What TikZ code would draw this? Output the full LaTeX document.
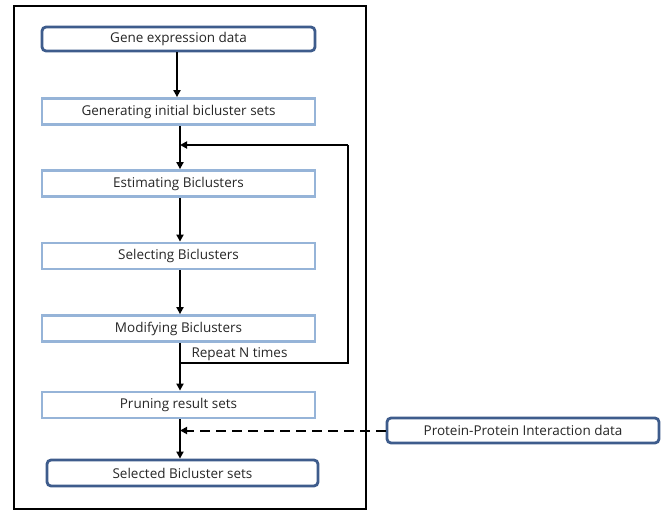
\documentclass[tikz,border=0pt]{standalone}
\usepackage{fontspec}
\setmainfont{Open Sans}
\usetikzlibrary{arrows.meta}
\definecolor{darkblue}{HTML}{3E5C8C}
\definecolor{lightblue}{HTML}{96B4D8}
\definecolor{txt}{HTML}{262626}
\tikzset{
  base/.style={rectangle, minimum width=273pt, minimum height=26pt, inner sep=0pt,
    font=\fontsize{13.5pt}{15pt}\selectfont, text=txt, fill=white},
  darkbox/.style={base, draw=darkblue, line width=2.8pt, rounded corners=4pt},
  lightbox/.style={base, draw=lightblue, line width=2.8pt},
  arr/.style={line width=2pt, -{Triangle[length=7pt,width=7pt]}},
  ln/.style={line width=2pt},
}
\begin{document}
\begin{tikzpicture}[x=1pt,y=-1pt]
\useasboundingbox (0,0) rectangle (667,511);
\draw[line width=1.8pt] (14,6) rectangle (366,509);
\node[darkbox, minimum height=24pt] (gene) at (178.5,39) {Gene expression data};
\node[lightbox] (gen) at (178.5,111.5) {Generating initial bicluster sets};
\node[lightbox] (est) at (178.5,183.5) {Estimating Biclusters};
\node[lightbox] (sel) at (178.5,256) {Selecting Biclusters};
\node[lightbox] (mod) at (178.5,328.5) {Modifying Biclusters};
\node[lightbox] (prun) at (178.5,405) {Pruning result sets};
\node[darkbox, minimum width=271pt] (fin) at (182.5,473) {Selected Bicluster sets};
\node[darkbox, minimum width=272pt, minimum height=25pt] (ppi) at (523,430.5) {Protein-Protein Interaction data};
\coordinate (c1) at (177,0);
\coordinate (c2) at (180,0);
\draw[arr] (gene.south -| c1) -- (gen.north -| c1);
\draw[arr] (gen.south -| c2) -- (est.north -| c2);
\draw[arr] (est.south -| c2) -- (sel.north -| c2);
\draw[arr] (sel.south -| c2) -- (mod.north -| c2);
\draw[arr] (mod.south -| c2) -- (prun.north -| c2);
\draw[arr] (prun.south -| c2) -- (fin.north -| c2);
\coordinate (lb) at (180,363);
\coordinate (lr) at (348,363);
\coordinate (tr) at (348,145);
\coordinate (tl) at (180,145);
\draw[ln] (lb) -- (lr) -- (tr);
\draw[arr] (tr) -- (tl);
\node[anchor=west, font=\fontsize{13.5pt}{15pt}\selectfont, text=txt] (rep) at (188,354) {Repeat N times};
\draw[arr, dash pattern=on 10pt off 6pt] (ppi.west) -- (ppi.west -| c2);
\end{tikzpicture}
\end{document}
